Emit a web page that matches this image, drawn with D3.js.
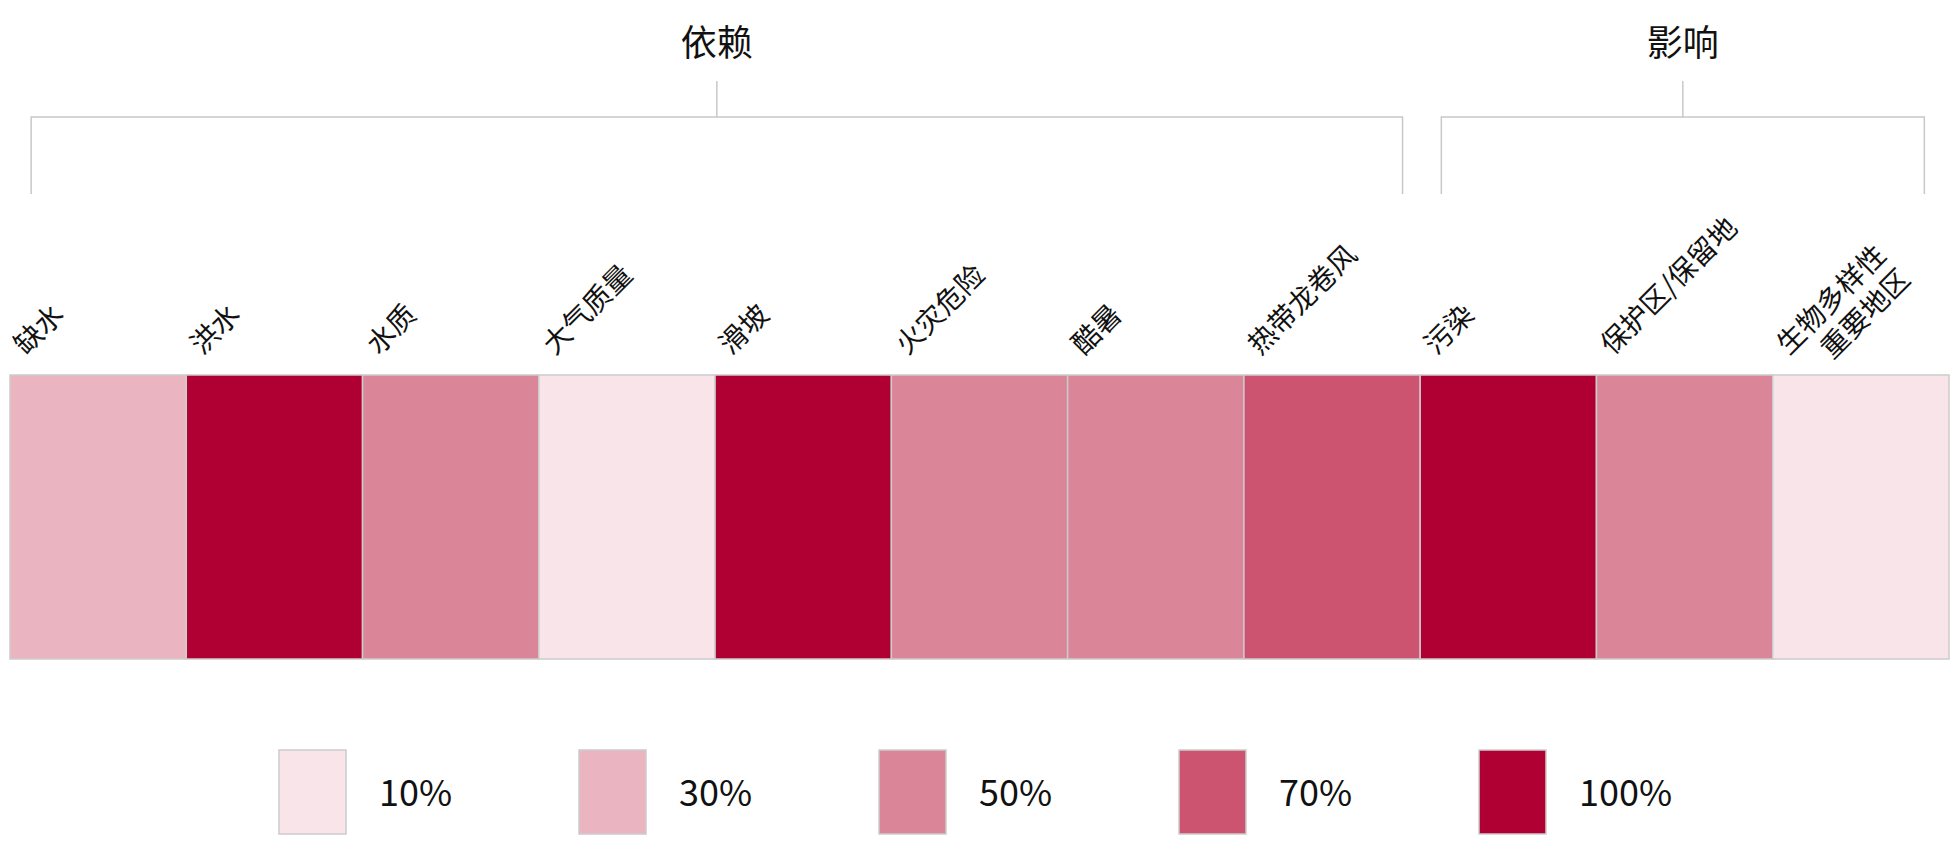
<!DOCTYPE html>
<html><head><meta charset="utf-8">
<script src="https://cdn.jsdelivr.net/npm/d3@7"></script>
<style>body{margin:0;background:#fff}svg{font-family:"Noto Sans CJK SC","Noto Sans",sans-serif}</style>
</head><body><svg id="c" width="1960" height="868"></svg>
<script>
const categories = ["缺水","洪水","水质","大气质量","滑坡","火灾危险","酷暑","热带龙卷风","污染","保护区/保留地","生物多样性\n重要地区"];
const values = [30,100,50,10,100,50,50,70,100,50,10];
const legendLevels = [10,30,50,70,100];
const levelColors = ["#f9e4ea","#eab5c1","#da8598","#cc5470","#b00033"];
const groups = [{name:"依赖",from:0,to:7},{name:"影响",from:8,to:10}];

const svg = d3.select("#c");
const x = d3.scaleBand().domain(d3.range(categories.length)).range([10,1949]).padding(0);
const color = d3.scaleOrdinal().domain(legendLevels).range(levelColors);
const cellTop = 375, cellH = 284;

svg.selectAll("rect.cell").data(values).join("rect").attr("class","cell")
  .attr("x",(d,i)=>x(i)).attr("y",cellTop).attr("width",x.bandwidth()).attr("height",cellH)
  .attr("fill",d=>color(d)).attr("stroke","#cccccc").attr("stroke-width",1.5);

categories.forEach((c,i)=>{
  const lines = c.split("\n");
  const g = svg.append("g").attr("transform",`translate(${x(i)+16},${356}) rotate(-45)`);
  const fs = 28;
  lines.forEach((l,j)=>{
    const t = g.append("text").attr("font-size",fs).attr("fill","#111").text(l);
    if (j === 0) t.attr("x",0).attr("y",0);
    else t.attr("x", lines[0].length*fs).attr("y", j*34).attr("text-anchor","end");
  });
});

groups.forEach((g,k)=>{
  const x0 = x(g.from)+x.bandwidth()*0.12, x1 = x(g.to)+x.bandwidth()*(k===0?0.9:0.86);
  const mid = (x0+x1)/2;
  svg.append("path").attr("d",`M${x0},194V117H${x1}V194M${mid},117V81`)
    .attr("fill","none").attr("stroke","#c8c8c8").attr("stroke-width",1.5);
  svg.append("text").attr("x",mid).attr("y",56).attr("text-anchor","middle")
    .attr("font-size",36).attr("fill","#111").text(g.name);
});

const lx = d3.scaleBand().domain(legendLevels).range([279,1779]);
const lg = svg.selectAll("g.leg").data(legendLevels).join("g").attr("class","leg")
  .attr("transform",d=>`translate(${lx(d)},750)`);
lg.append("rect").attr("width",67).attr("height",84).attr("fill",d=>color(d))
  .attr("stroke","#cccccc").attr("stroke-width",1.5);
lg.append("text").attr("x",100).attr("y",56).attr("font-size",36).attr("fill","#111")
  .text(d=>d+"%");
</script></body></html>
